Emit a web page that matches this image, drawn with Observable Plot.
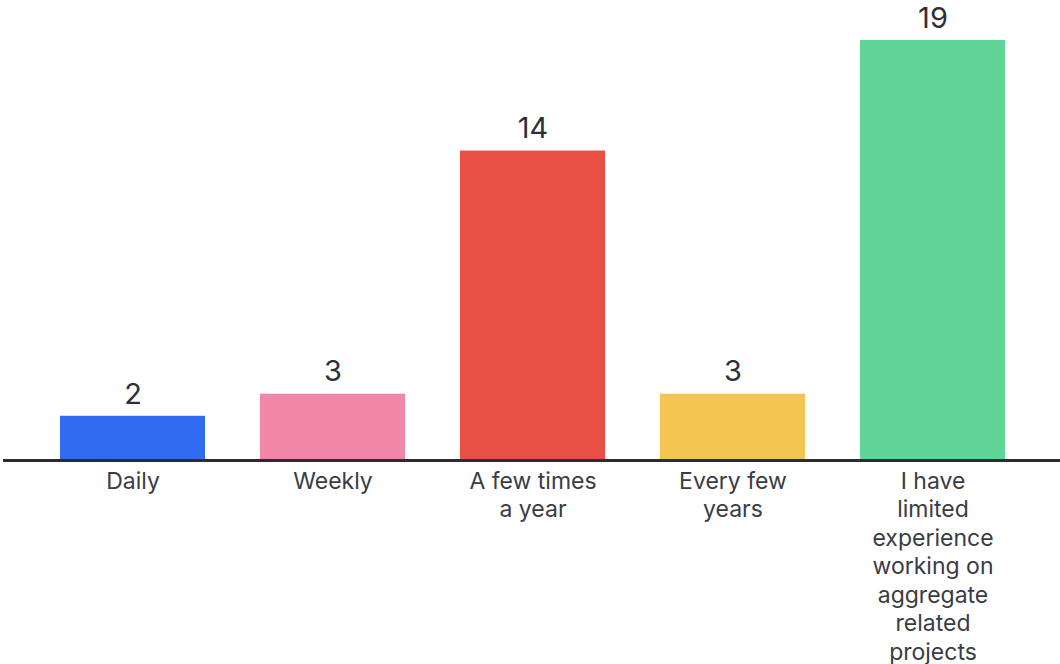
<!DOCTYPE html>
<html>
<head>
<meta charset="utf-8">
<script src="https://cdn.jsdelivr.net/npm/d3@7"></script>
<script src="https://cdn.jsdelivr.net/npm/@observablehq/plot@0.6"></script>
<style>
  html, body { margin: 0; padding: 0; background: #ffffff; }
  #chart { width: 1060px; height: 664px; }
</style>
</head>
<body>
<div id="chart"></div>
<script>
const categories = ["Daily", "Weekly", "A few times a year", "Every few years", "I have limited experience working on aggregate related projects"];
const tickLabels = ["Daily", "Weekly", "A few times\na year", "Every few\nyears", "I have\nlimited\nexperience\nworking on\naggregate\nrelated\nprojects"];
const values = [2, 3, 14, 3, 19];
const colors = ["#2f6cf1", "#ef87a8", "#e85046", "#f5c552", "#61d597"];

const data = categories.map((c, i) => ({category: c, value: values[i], label: tickLabels[i], color: colors[i]}));

const chart = Plot.plot({
  width: 1060,
  height: 664,
  marginLeft: 5,
  marginRight: 0,
  marginTop: 40,
  marginBottom: 204,
  style: {fontFamily: "Inter, 'Noto Sans', sans-serif", background: "#ffffff", color: "#2e3038"},
  x: {domain: categories, padding: 0.275, axis: null},
  y: {domain: [0, 19], axis: null},
  marks: [
    Plot.barY(data, {x: "category", y: "value", fill: "color"}),
    Plot.ruleY([0], {stroke: "#2b2d33", strokeWidth: 3, insetLeft: -2}),
    Plot.text(data, {x: "category", y: "value", text: d => String(d.value), dy: -22, fontSize: 29, fill: "#2e3038"}),
    Plot.text(data, {x: "category", y: () => 0, text: "label", lineAnchor: "top", dy: 8, fontSize: 23, lineHeight: 1.24, fill: "#3a3c44"})
  ]
});
document.getElementById("chart").appendChild(chart);
</script>
</body>
</html>
